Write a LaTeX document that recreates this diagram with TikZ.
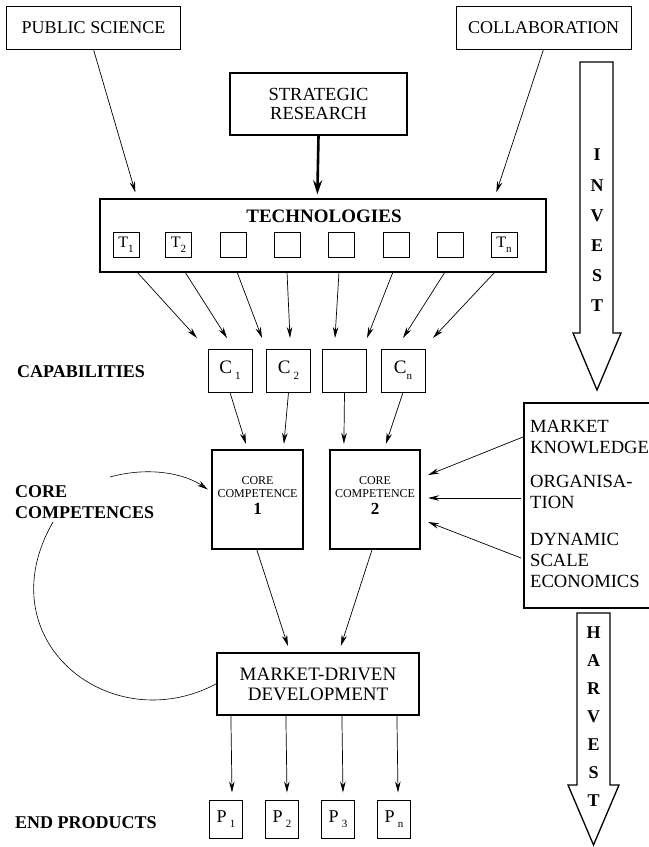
\documentclass[tikz,border=0pt]{standalone}
\usepackage{fontspec}
\setmainfont{Liberation Serif}
\usetikzlibrary{arrows.meta,calc}
\newcommand{\fsz}[2]{\fontsize{#1bp}{#2bp}\selectfont}
\newcommand{\sbs}[1]{\raisebox{-0.3em}{\fontsize{11bp}{11bp}\selectfont #1}}
\tikzset{
  box/.style={draw, line width=1bp, inner sep=0pt, align=center, font=\fsz{18}{20}},
  thickbox/.style={draw, line width=2.2bp, inner sep=0pt, align=center},
  tbox/.style={draw, line width=1bp, minimum width=26bp, minimum height=25bp, inner sep=0pt, font=\fsz{16}{16}},
  cbox/.style={draw, line width=1bp, minimum width=44bp, minimum height=43bp, inner sep=0pt, font=\fsz{19}{19}},
  pbox/.style={draw, line width=1bp, minimum width=33bp, minimum height=38bp, inner sep=0pt, font=\fsz{18}{18}},
  arr/.style={line width=0.7bp, -{Stealth[length=11bp,width=5.5bp]}},
  lbl/.style={font=\bfseries\fsz{18}{21}, align=left, inner sep=0pt},
  rtxt/.style={font=\fsz{18.6}{21}, align=left, inner sep=0pt, anchor=west},
  cctxt/.style={font=\fsz{12}{12}, inner sep=0pt},
  ccnum/.style={font=\bfseries\fsz{17}{17}, inner sep=0pt},
  hollow/.style={draw, line width=1.3bp, fill=white},
  letter/.style={font=\bfseries\fsz{18}{18}, inner sep=0pt}
}
\begin{document}
\begin{tikzpicture}[x=1bp,y=-1bp]
\useasboundingbox (0,0) rectangle (649,847);
\fill[white] (0,0) rectangle (649,847);

% top boxes
\node[box, minimum width=173bp, minimum height=42bp] (ps) at (93.5,28) {PUBLIC SCIENCE};
\node[box, minimum width=175bp, minimum height=42bp] (col) at (543.5,28) {COLLABORATION};
\node[box, line width=2.2bp, minimum width=177bp, minimum height=62bp, font=\fsz{18.5}{19}] (sr) at (318.5,104) {STRATEGIC\\RESEARCH};

% technologies
\node[draw, line width=1.3bp, minimum width=446bp, minimum height=73bp, inner sep=0pt] (tech) at (323,235.5) {};
\node[font=\bfseries\fsz{19}{20}, inner sep=0pt] (techl) at (324,216) {TECHNOLOGIES};
\node[tbox] (t1) at (126,244.5) {T\sbs{1}};
\node[tbox] (t2) at (178.5,244.5) {T\sbs{2}};
\node[tbox] (t3) at (233.5,244.5) {};
\node[tbox] (t4) at (287.5,244.5) {};
\node[tbox] (t5) at (341.5,244.5) {};
\node[tbox] (t6) at (396,244.5) {};
\node[tbox] (t7) at (450,244.5) {};
\node[tbox] (t8) at (504,244.5) {T\sbs{n}};

\draw[arr] (ps.south) -- ($(tech.north west)+(36,-6)$);
\draw[arr] (col.south) -- ($(tech.north west)+(397,-6)$);
\draw[line width=2.6bp, -{Stealth[length=14bp,width=9bp]}] (sr.south) -- ($(tech.north west)+(218,-4)$);

% technologies -> capabilities
\foreach \i/\sx/\ex in {1/137/197, 2/185/227, 3/237/262, 4/287/290, 5/339/335, 6/393/367, 7/445/403, 8/495/433}{
  \coordinate (ts\i) at (\sx,272);
  \coordinate (te\i) at (\ex,338);
  \draw[arr] (ts\i) -- (te\i);
}

% capabilities
\node[lbl, anchor=west] (capl) at (17,372) {CAPABILITIES};
\node[cbox] (c1) at (230,370.5) {C\,\sbs{1}};
\node[cbox] (c2) at (288.5,370.5) {C\,\sbs{2}};
\node[cbox] (c3) at (344.5,370.5) {};
\node[cbox] (c4) at (403,370.5) {C\sbs{n}};

% core competences
\node[thickbox, minimum width=91bp, minimum height=99bp] (cc1) at (257.5,499.5) {};
\node[thickbox, minimum width=90bp, minimum height=99bp] (cc2) at (375,499.5) {};
\node[cctxt] (cc1a) at (257.5,481) {CORE};
\node[cctxt] (cc1b) at (257.5,494) {COMPETENCE};
\node[ccnum] (cc1c) at (257.5,509) {1};
\node[cctxt] (cc2a) at (375,481) {CORE};
\node[cctxt] (cc2b) at (375,494) {COMPETENCE};
\node[ccnum] (cc2c) at (375,509) {2};
\node[lbl, anchor=west] (ccl) at (15,502) {CORE\\COMPETENCES};

\draw[arr] (c1.south) -- ($(cc1.north west)+(35,-5)$);
\draw[arr] (c2.south) -- ($(cc1.north west)+(73,-5)$);
\draw[arr] (c3.south) -- ($(cc2.north west)+(15,-5)$);
\draw[arr] (c4.south) -- ($(cc2.north west)+(57,-5)$);

% right box
\node[thickbox, minimum width=140bp, minimum height=205bp, anchor=north west] (rb) at (523,402) {};
\node[rtxt] (mk) at (530,437) {MARKET\\KNOWLEDGE};
\node[rtxt] (org) at (530,492) {ORGANISA-\\TION};
\node[rtxt] (dyn) at (530,560) {DYNAMIC\\SCALE\\ECONOMICS};
\draw[arr] ($(rb.north west)+(0,35)$) -- ($(cc2.east)+(7,-24.5)$);
\draw[arr] ($(rb.north west)+(-2,96)$) -- ($(cc2.east)+(7,-1.5)$);
\draw[arr] ($(rb.north west)+(-2,156)$) -- ($(cc2.east)+(7,22.5)$);

% market-driven development
\node[thickbox, minimum width=202bp, minimum height=62bp, font=\fsz{19}{20}] (mdd) at (318,684) {MARKET-DRIVEN\\DEVELOPMENT};
\draw[arr] ($(cc1.south west)+(46,0)$) -- ($(mdd.north west)+(72,-6)$);
\draw[arr] ($(cc2.south west)+(43,0)$) -- ($(mdd.north west)+(125,-6)$);

% curves
\coordinate (cu1) at (110,477);
\draw[arr, line width=0.6bp] (cu1) .. controls (150,466) and (185,474) .. ($(cc1.west)+(-3,-10)$);
\coordinate (cu2) at (53,522);
\draw[line width=0.6bp] (cu2) .. controls (-15,640) and (110,740) .. (mdd.west);

% end products
\node[lbl, anchor=west] (epl) at (15,823) {END PRODUCTS};
\node[pbox] (p1) at (226,819) {P\,\sbs{1}};
\node[pbox] (p2) at (282,819) {P\,\sbs{2}};
\node[pbox] (p3) at (338,819) {P\,\sbs{3}};
\node[pbox] (p4) at (394,819) {P\,\sbs{n}};
\draw[arr] ($(mdd.south west)+(15,0)$) -- ($(p1.north)+(6,-7)$);
\draw[arr] ($(mdd.south west)+(70,0)$) -- ($(p2.north)+(5,-7)$);
\draw[arr] ($(mdd.south west)+(126,0)$) -- ($(p3.north)+(5,-7)$);
\draw[arr] ($(mdd.south west)+(181,0)$) -- ($(p4.north)+(4,-7)$);

% invest arrow
\draw[hollow] (580,62) -- (613,62) -- (613,333) -- (621,333) -- (597,390) -- (573,333) -- (580,333) -- cycle;
\foreach \l/\yy [count=\k] in {I/155, N/186, V/216, E/246, S/276, T/306}{
  \node[letter] (inv\k) at (597,\yy) {\l};
}
% harvest arrow
\draw[hollow] (577,613) -- (610,613) -- (610,785) -- (619,785) -- (593.5,845) -- (568,785) -- (577,785) -- cycle;
\foreach \l/\yy [count=\k] in {H/633, A/661, R/689, V/717, E/745, S/773, T/801}{
  \node[letter] (har\k) at (593.5,\yy) {\l};
}
\end{tikzpicture}
\end{document}
